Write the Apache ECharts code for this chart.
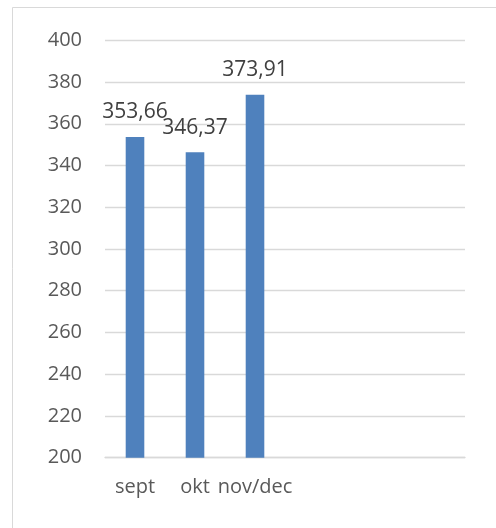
<!DOCTYPE html>
<html>
<head>
<meta charset="utf-8">
<script src="https://cdn.jsdelivr.net/npm/echarts@6/dist/echarts.min.js"></script>
<style>
html,body{margin:0;padding:0;background:#fff;}
#c{width:496px;height:528px;}
</style>
</head>
<body>
<div id="c"></div>
<script>
const categories = ['sept', 'okt', 'nov/dec', '', '', ''];
const values = [353.66, 346.37, 373.91, null, null, null];
const yTicks = { min: 200, max: 400, interval: 20 };

const chart = echarts.init(document.getElementById('c'), null, { renderer: 'canvas' });
const fontFamily = '"Open Sans", "Noto Sans", sans-serif';
chart.setOption({
  animation: false,
  backgroundColor: '#fff',
  graphic: [{
    type: 'rect',
    shape: { x: 12.5, y: 7.5, width: 500, height: 540 },
    style: { fill: 'none', stroke: '#d9d9d9', lineWidth: 1 },
    silent: true
  }],
  grid: { left: 105, right: 31, top: 40.3, bottom: 70.3, containLabel: false },
  xAxis: {
    type: 'category',
    data: categories,
    axisLine: { show: true, lineStyle: { color: '#d9d9d9', width: 1.3 } },
    axisTick: { show: false },
    axisLabel: { color: '#595959', fontSize: 20, fontFamily: fontFamily, margin: 20, interval: 0 }
  },
  yAxis: {
    type: 'value',
    min: yTicks.min, max: yTicks.max, interval: yTicks.interval,
    axisLine: { show: false },
    axisTick: { show: false },
    splitLine: { lineStyle: { color: '#d9d9d9', width: 1.3 } },
    axisLabel: { color: '#595959', fontSize: 20, fontFamily: fontFamily, margin: 23 }
  },
  series: [{
    type: 'bar',
    data: values,
    barWidth: '31%',
    itemStyle: { color: '#4f81bd' },
    label: {
      show: true,
      position: 'top',
      distance: 14,
      color: '#404040',
      fontSize: 21,
      fontFamily: fontFamily,
      formatter: p => p.value == null ? '' : p.value.toFixed(2).replace('.', ',')
    }
  }]
});
</script>
</body>
</html>
